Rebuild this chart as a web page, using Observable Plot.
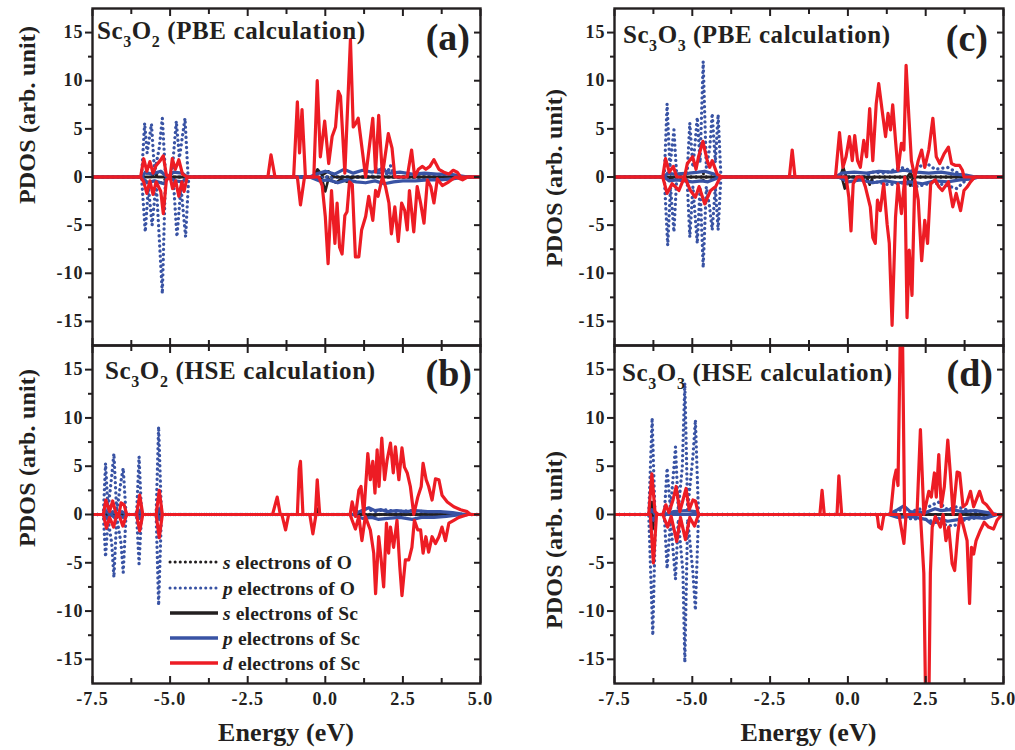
<!DOCTYPE html>
<html><head><meta charset="utf-8">
<script src="https://cdn.jsdelivr.net/npm/d3@7"></script>
<script src="https://cdn.jsdelivr.net/npm/@observablehq/plot@0.6"></script>
<style>
body{margin:0;background:#fff}
#fig{position:relative;width:1015px;height:750px;overflow:hidden;background:#fff}
#fig > svg{position:absolute}
</style></head>
<body><div id="fig"></div>
<script>
// ---------------- axis / tick values ----------------
const xDomain = [-7.5, 5];
const yDomain = [-17.5, 17.5];
const xMajor = [-7.5, -5, -2.5, 0, 2.5, 5];
const xMinor = [-6.25, -3.75, -1.25, 1.25, 3.75];
const yMajor = [-15, -10, -5, 0, 5, 10, 15];
const yMinor = [-12.5, -7.5, -2.5, 2.5, 7.5, 12.5];

// ---------------- panel (a): Sc3O2 PBE ----------------
const aDup = [[-7.5,0],[-5.95,0],[-5.85,1.9],[-5.75,0.6],[-5.65,1.6],[-5.55,0.4],[-5.45,1.2],[-5.32,1.7],[-5.22,2.2],[-5.12,0.2],[-5.0,0],[-4.93,1.9],[-4.83,0.8],[-4.72,1.8],[-4.6,0.3],[-4.45,0],
 [-1.85,0],[-1.75,2.3],[-1.62,0],
 [-1.02,0],[-0.9,7.8],[-0.83,2.5],[-0.75,7.0],[-0.64,0],[-0.37,0],[-0.26,10.0],[-0.16,2.1],[-0.02,5.8],[0.11,1.4],[0.22,4.2],[0.33,5.2],[0.42,8.9],[0.49,8.4],[0.63,0.4],[0.81,14.3],[0.9,5.2],[0.97,5.5],[1.06,6.1],[1.3,0],[1.53,6.1],[1.62,0.5],[1.72,6.4],[1.84,0.2],[2.03,4.5],[2.15,3.0],[2.24,0],[2.64,0],[2.78,2.8],[2.88,0],[3.0,0.8],[3.13,1.1],[3.24,0.8],[3.37,1.1],[3.5,1.8],[3.66,0.8],[3.82,0.5],[3.98,0.3],[4.12,0.7],[4.25,0.5],[4.36,0],[5,0]];
const aDdn = [[-7.5,0],[-5.95,0],[-5.85,-0.5],[-5.75,-1.7],[-5.65,-0.4],[-5.55,-1.8],[-5.45,-0.5],[-5.3,-1.5],[-5.22,-3.8],[-5.12,-0.3],[-5.0,0],[-4.92,-1.2],[-4.82,-0.4],[-4.72,-2.0],[-4.62,-0.5],[-4.55,-1.5],[-4.45,0],
 [-0.9,0],[-0.8,-2.9],[-0.67,0],
 [-0.21,0],[-0.1,-0.9],[0.0,-4.1],[0.09,-9.0],[0.2,-1.4],[0.31,-6.9],[0.38,-2.7],[0.46,-7.3],[0.54,-8.0],[0.63,-4.0],[0.7,-3.6],[0.78,-0.5],[0.87,-0.8],[0.97,-8.3],[1.08,-8.3],[1.17,-5.5],[1.3,-4.1],[1.4,-2.0],[1.53,-4.5],[1.62,-1.4],[1.7,-2.0],[1.84,0],[1.94,-1.0],[2.05,-2.7],[2.13,-5.9],[2.24,-3.1],[2.35,-6.7],[2.46,-2.7],[2.56,-3.5],[2.64,-5.5],[2.71,-1.4],[2.78,-3.5],[2.85,-5.7],[2.96,-1.0],[3.07,-2.7],[3.18,-4.8],[3.29,-0.3],[3.4,-1.0],[3.5,-2.7],[3.61,-0.2],[3.77,-0.9],[3.98,-0.5],[4.2,0],[4.42,-0.3],[4.58,0],[5,0]];
const aPOup = [[-7.5,0],[-5.92,0],[-5.82,5.6],[-5.74,2.5],[-5.6,5.5],[-5.5,0.5],[-5.35,3.0],[-5.25,6.1],[-5.15,0.3],[-4.95,0],[-4.8,5.8],[-4.7,2.0],[-4.52,6.1],[-4.42,0],[1.5,0],[1.62,1.0],[1.72,0.2],[1.85,1.1],[1.98,0.3],[2.1,1.2],[2.22,0],[5,0]];
const aPOdn = [[-7.5,0],[-5.92,0],[-5.8,-5.7],[-5.7,-1.0],[-5.58,-5.0],[-5.45,-0.5],[-5.25,-12.1],[-5.15,0],[-4.9,0],[-4.78,-6.2],[-4.65,-1.0],[-4.5,-6.2],[-4.4,0],[5,0]];
const aPScUp = [[-7.5,0],[-5.9,0],[-5.8,0.5],[-5.6,0.3],[-5.3,0.6],[-5.1,0],[-4.9,0.5],[-4.6,0.4],[-4.45,0],[-0.5,0],[-0.3,0.3],[0.0,0.6],[0.3,0.3],[0.6,0.8],[0.9,0.4],[1.2,0.7],[1.5,0.5],[1.8,0.8],[2.1,0.4],[2.4,0.5],[2.8,0.3],[3.2,0.4],[3.6,0.3],[4.0,0.3],[4.4,0.1],[4.6,0],[5,0]];
const aPScDn = [[-7.5,0],[-5.9,0],[-5.75,-0.6],[-5.5,-0.4],[-5.2,-0.7],[-5.05,0],[-4.85,-0.4],[-4.6,-0.5],[-4.45,0],[-0.5,0],[-0.2,-0.4],[0.1,-0.3],[0.4,-0.6],[0.7,-0.3],[1.0,-0.5],[1.3,-0.6],[1.6,-0.4],[1.9,-0.7],[2.2,-0.5],[2.5,-0.4],[2.9,-0.4],[3.3,-0.3],[3.7,-0.3],[4.1,-0.2],[4.5,0],[5,0]];
const aSScUp = [[-7.5,0],[-5.6,0],[-5.5,0.4],[-5.4,0],[-0.4,0],[-0.25,0.8],[-0.1,0.2],[0.1,0.6],[0.3,0],[5,0]];
const aSScDn = [[-7.5,0],[-0.2,0],[-0.1,-0.3],[0.0,-1.5],[0.1,-0.2],[0.35,-0.6],[0.5,-0.2],[0.7,-0.5],[0.9,0],[5,0]];
const aSOup = [[-7.5,0],[-5.85,0],[-5.75,0.4],[-5.5,0.3],[-5.25,0.5],[-5.1,0],[5,0]];
const aSOdn = [[-7.5,0],[-5.85,0],[-5.8,-0.4],[-5.25,-0.6],[-5.1,0],[5,0]];

// ---------------- panel (b): Sc3O2 HSE ----------------
const bDup = [[-7.5,0],[-7.15,0],[-7.07,1.5],[-6.95,0.3],[-6.85,1.4],[-6.75,0.2],[-6.65,0],[-6.58,1.2],[-6.48,1.0],[-6.4,0],[-6.08,0],[-5.98,2.0],[-5.88,0],[-5.45,0],[-5.35,2.5],[-5.25,0],
 [-1.7,0],[-1.55,1.8],[-1.45,0],[-0.9,0],[-0.84,4.7],[-0.8,5.5],[-0.72,0],[-0.32,0],[-0.26,3.6],[-0.18,0],
 [0.8,0],[0.865,1.3],[0.97,-0.2],[1.08,2.5],[1.15,2.9],[1.24,0],[1.37,6.3],[1.45,3.6],[1.53,5.5],[1.6,2.2],[1.67,6.7],[1.73,2.9],[1.82,7.9],[1.91,3.6],[1.99,5.6],[2.1,7.4],[2.19,4.3],[2.26,7.0],[2.37,3.6],[2.47,6.9],[2.55,4.9],[2.64,4.3],[2.74,2.9],[2.85,0],[2.98,1.8],[3.09,2.9],[3.15,5.3],[3.25,3.6],[3.33,2.9],[3.44,1.5],[3.55,3.7],[3.66,3.6],[3.76,2.0],[3.93,1.3],[4.14,0.8],[4.36,0.5],[4.57,0.3],[4.68,0],[5,0]];
const bDdn = [[-7.5,0],[-7.15,0],[-7.05,-1.4],[-6.95,-0.3],[-6.82,-1.3],[-6.72,0],[-6.62,-0.3],[-6.52,-1.2],[-6.4,0],[-6.08,0],[-5.98,-1.7],[-5.88,0],[-5.45,0],[-5.35,-2.4],[-5.25,0],
 [-1.4,0],[-1.28,-1.6],[-1.18,0],[-0.5,0],[-0.4,-2.0],[-0.3,0],
 [0.8,0],[0.865,-0.6],[0.97,-1.5],[1.08,-0.2],[1.18,-2.7],[1.29,-0.2],[1.45,-1.6],[1.56,-4.0],[1.62,-8.2],[1.72,-2.3],[1.8,-4.7],[1.88,-7.5],[1.97,-0.9],[2.04,-4.0],[2.1,-1.3],[2.2,-3.4],[2.31,-0.6],[2.4,-5.4],[2.47,-8.4],[2.58,-4.7],[2.69,-4.7],[2.79,-3.4],[2.87,-0.6],[2.98,-1.6],[3.07,-1.6],[3.15,-4.0],[3.24,-2.3],[3.33,-3.9],[3.44,-2.3],[3.55,-3.0],[3.66,-2.3],[3.76,-1.3],[3.87,-2.7],[3.98,-0.9],[4.14,-0.6],[4.3,-0.3],[4.5,-0.1],[4.6,0],[5,0]];
const bPOup = [[-7.5,0],[-7.15,0],[-7.08,5.3],[-7.0,0.5],[-6.88,4.0],[-6.81,6.3],[-6.72,0.3],[-6.58,3.5],[-6.51,4.8],[-6.42,0],[-6.08,0],[-6.0,6.0],[-5.92,0],[-5.45,0],[-5.37,9.1],[-5.28,0],[1.0,0],[1.3,0.6],[1.6,0.3],[1.9,0.5],[2.3,0.3],[2.7,0.4],[3.2,0.3],[3.8,0.2],[4.4,0],[5,0]];
const bPOdn = [[-7.5,0],[-7.15,0],[-7.08,-4.4],[-7.0,-0.5],[-6.88,-3.0],[-6.81,-6.5],[-6.72,-0.3],[-6.58,-3.0],[-6.51,-6.0],[-6.42,0],[-6.08,0],[-6.0,-5.1],[-5.92,0],[-5.45,0],[-5.37,-9.4],[-5.28,0],[5,0]];
const bPScUp = [[-7.5,0],[-7.15,0],[-7.07,0.4],[-6.95,0],[-6.85,0.3],[-6.7,0],[-6.55,0.3],[-6.4,0],[-6.05,0],[-5.98,0.4],[-5.9,0],[-5.42,0],[-5.35,0.6],[-5.27,0],[0.9,0],[1.1,0.3],[1.4,0.7],[1.6,0.4],[1.8,0.5],[2.0,0.3],[2.3,0.4],[2.6,0.3],[2.9,0.4],[3.3,0.3],[3.7,0.3],[4.1,0.2],[4.5,0],[5,0]];
const bPScDn = [[-7.5,0],[-7.15,0],[-7.05,-0.4],[-6.9,0],[-6.8,-0.3],[-6.7,0],[-6.52,-0.3],[-6.4,0],[-6.05,0],[-5.98,-0.4],[-5.9,0],[-5.42,0],[-5.35,-0.5],[-5.27,0],[0.9,0],[1.2,-0.4],[1.5,-0.3],[1.7,-0.5],[2.0,-0.4],[2.4,-0.3],[2.8,-0.5],[3.1,-0.3],[3.5,-0.3],[3.9,-0.2],[4.4,0],[5,0]];
const bSScUp = [[-7.5,0],[-0.3,0],[-0.25,0.6],[-0.2,0],[0.95,0],[1.0,0.4],[1.1,0],[5,0]];
const bSScDn = [[-7.5,0],[1.3,0],[1.45,-0.3],[1.7,0],[5,0]];
const bSOup = [[-7.5,0],[-5.42,0],[-5.35,0.3],[-5.28,0],[5,0]];
const bSOdn = [[-7.5,0],[-5.42,0],[-5.35,-0.3],[-5.28,0],[5,0]];

// ---------------- panel (c): Sc3O3 PBE ----------------
const cDup = [[-7.5,0],[-5.95,0],[-5.86,1.9],[-5.74,0.5],[-5.61,1.1],[-5.5,0],[-5.25,0],[-5.16,1.4],[-4.99,2.1],[-4.88,0.8],[-4.8,2.1],[-4.66,3.7],[-4.52,1.7],[-4.44,1.0],[-4.36,1.7],[-4.2,0.3],[-4.05,0],
 [-1.88,0],[-1.79,2.8],[-1.7,0],
 [-0.4,0],[-0.27,4.6],[-0.16,1.0],[-0.06,2.1],[0.05,4.2],[0.14,1.7],[0.22,4.3],[0.31,1.7],[0.4,1.0],[0.51,3.8],[0.6,2.1],[0.7,7.1],[0.8,1.7],[0.91,7.6],[0.99,9.7],[1.1,6.9],[1.21,4.2],[1.29,6.6],[1.37,4.9],[1.44,7.5],[1.53,3.8],[1.61,0.7],[1.72,3.5],[1.8,2.8],[1.87,11.6],[1.96,6.2],[2.04,1.7],[2.15,0],[2.26,1.7],[2.37,2.8],[2.47,1.0],[2.6,2.8],[2.73,6.1],[2.84,2.1],[2.95,1.4],[3.09,2.4],[3.23,3.1],[3.33,1.4],[3.46,1.2],[3.59,1.2],[3.68,0.7],[3.73,0],[5,0]];
const cDdn = [[-7.5,0],[-5.95,0],[-5.81,-1.7],[-5.65,-0.7],[-5.55,-1.0],[-5.43,-1.4],[-5.25,0],[-5.06,-1.4],[-4.9,-2.1],[-4.78,-1.0],[-4.6,-2.8],[-4.41,-1.4],[-4.25,-1.0],[-4.1,0],
 [-0.06,0],[0.03,-2.1],[0.1,-5.6],[0.17,-0.7],[0.29,0],[0.45,0],[0.56,-1.0],[0.72,-3.1],[0.8,-6.3],[0.88,-6.9],[0.95,-2.4],[1.04,-3.5],[1.15,-0.7],[1.26,-4.9],[1.33,-6.9],[1.42,-15.4],[1.53,-4.2],[1.61,-0.7],[1.72,-3.8],[1.83,0],[1.9,-14.6],[1.97,-7.6],[2.06,-12.3],[2.15,-0.3],[2.26,-2.4],[2.37,-8.7],[2.47,-4.5],[2.56,-6.9],[2.66,-0.7],[2.8,-0.3],[2.92,-1.0],[3.03,-1.4],[3.23,-0.5],[3.37,-3.1],[3.48,-1.7],[3.62,-3.5],[3.73,-1.4],[3.84,-1.0],[3.94,-0.5],[4.08,0],[5,0]];
const cPOup = [[-7.5,0],[-5.9,0],[-5.81,7.6],[-5.72,1.0],[-5.59,4.9],[-5.5,0],[-5.17,0],[-5.08,5.6],[-4.98,1.0],[-4.84,6.2],[-4.75,1.5],[-4.65,12.0],[-4.55,1.0],[-4.44,3.0],[-4.36,6.6],[-4.26,1.5],[-4.17,6.5],[-4.08,0],[0.5,0],[0.8,0.5],[1.2,0.4],[1.7,1.0],[2.1,0.6],[2.5,1.5],[2.8,0.8],[3.2,1.0],[3.6,0.3],[3.9,0],[5,0]];
const cPOdn = [[-7.5,0],[-5.9,0],[-5.79,-7.1],[-5.7,-1.0],[-5.59,-5.7],[-5.5,0],[-5.17,0],[-5.08,-6.25],[-4.98,-1.0],[-4.84,-6.9],[-4.75,-1.0],[-4.65,-9.4],[-4.55,-1.0],[-4.45,-3.0],[-4.36,-5.5],[-4.26,-1.0],[-4.17,-5.5],[-4.08,0],[0.5,0],[0.9,-0.5],[1.3,-0.8],[1.8,-0.6],[2.2,-1.0],[2.7,-0.6],[3.1,-0.8],[3.5,-1.2],[3.9,0],[5,0]];
const cPScUp = [[-7.5,0],[-5.9,0],[-5.8,0.4],[-5.6,0.3],[-5.1,0.4],[-4.8,0.5],[-4.6,0.6],[-4.3,0.3],[-4.1,0],[-0.4,0],[-0.2,0.4],[0.2,0.5],[0.6,0.4],[1.0,0.6],[1.4,0.5],[1.8,0.7],[2.2,0.5],[2.6,0.4],[3.0,0.5],[3.4,0.3],[3.8,0.2],[4.1,0],[5,0]];
const cPScDn = [[-7.5,0],[-5.9,0],[-5.75,-0.4],[-5.5,-0.3],[-5.0,-0.5],[-4.7,-0.4],[-4.5,-0.5],[-4.1,0],[-0.3,0],[0.0,-0.5],[0.4,-0.3],[0.8,-0.6],[1.2,-0.4],[1.6,-0.6],[2.0,-0.5],[2.4,-0.7],[2.8,-0.4],[3.2,-0.5],[3.6,-0.3],[4.0,-0.2],[4.2,0],[5,0]];
const cSScUp = [[-7.5,0],[-0.25,0],[-0.15,1.0],[-0.05,0],[1.9,0],[2.0,0.4],[2.1,0],[5,0]];
const cSScDn = [[-7.5,0],[-5.75,0],[-5.7,-0.3],[-5.6,0],[-0.2,0],[-0.1,-1.2],[0.0,0],[0.6,0],[0.7,-0.8],[0.8,0],[1.9,0],[2.0,-0.9],[2.1,0],[5,0]];
const cSOup = [[-7.5,0],[-4.7,0],[-4.65,0.4],[-4.6,0],[5,0]];
const cSOdn = [[-7.5,0],[-4.7,0],[-4.65,-0.4],[-4.6,0],[5,0]];

// ---------------- panel (d): Sc3O3 HSE ----------------
const dDup = [[-7.5,0],[-6.4,0],[-6.3,4.2],[-6.2,0.3],[-6.1,0],[-5.95,0],[-5.85,1.0],[-5.75,0.2],[-5.62,1.5],[-5.52,2.9],[-5.4,0.3],[-5.3,1.5],[-5.2,2.7],[-5.1,0.5],[-4.98,1.5],[-4.9,1.4],[-4.8,0],
 [-0.9,0],[-0.83,2.5],[-0.76,0],[-0.35,0],[-0.29,4.0],[-0.2,0],
 [1.37,0],[1.48,3.6],[1.55,4.6],[1.61,3.0],[1.69,20],[1.75,20],[1.82,0],[2.22,0],[2.33,8.8],[2.44,0],[2.6,2.4],[2.68,1.8],[2.78,4.3],[2.84,1.8],[2.92,6.2],[3.0,0.8],[3.1,2.9],[3.21,7.7],[3.29,4.3],[3.38,0],[3.51,4.4],[3.59,4.3],[3.7,0.8],[3.81,1.1],[3.94,2.4],[4.04,0.8],[4.23,2.4],[4.34,1.3],[4.45,1.0],[4.57,0.5],[4.68,0],[5,0]];
const dDdn = [[-7.5,0],[-6.35,0],[-6.25,-5.0],[-6.15,0],[-5.95,0],[-5.79,-1.3],[-5.68,-0.2],[-5.5,-2.8],[-5.38,-0.3],[-5.22,-2.6],[-5.08,-0.3],[-4.93,-1.2],[-4.8,0],
 [0.94,0],[0.99,-1.3],[1.08,-1.5],[1.16,0],[1.64,0],[1.71,-1.3],[1.8,-3.0],[1.87,0],[2.33,0],[2.44,-6.1],[2.5,-20],[2.6,-20],[2.65,-6.1],[2.71,-1.3],[2.81,-0.2],[2.97,-1.3],[3.06,0],[3.15,-2.7],[3.24,-1.3],[3.35,-5.1],[3.43,-5.8],[3.53,-2.0],[3.61,0],[3.72,-1.3],[3.83,-2.7],[3.91,-9.2],[3.97,-3.4],[4.04,-4.1],[4.12,-2.7],[4.26,-1.6],[4.38,-0.8],[4.52,-1.3],[4.68,-1.5],[4.79,-0.6],[4.95,0],[5,0]];
const dPOup = [[-7.5,0],[-6.4,0],[-6.29,10.0],[-6.2,0],[-5.9,0],[-5.81,4.8],[-5.7,0.5],[-5.54,7.0],[-5.45,0.5],[-5.32,5.0],[-5.24,13.6],[-5.15,0.5],[-4.98,6.0],[-4.9,9.8],[-4.8,0],[1.4,0],[1.7,0.5],[2.0,0.3],[2.6,0.8],[2.9,1.3],[3.2,0.5],[3.5,0.8],[4.0,0.3],[4.4,0],[5,0]];
const dPOdn = [[-7.5,0],[-6.4,0],[-6.27,-12.5],[-6.18,0],[-5.9,0],[-5.81,-5.6],[-5.7,-0.5],[-5.54,-6.7],[-5.45,-0.5],[-5.3,-6.0],[-5.24,-15.3],[-5.15,-0.5],[-4.98,-6.0],[-4.9,-9.9],[-4.8,0],[1.4,0],[1.8,-0.4],[2.5,-0.5],[3.0,-1.0],[3.4,-1.2],[3.7,-0.6],[4.2,-0.3],[4.5,0],[5,0]];
const dPScUp = [[-7.5,0],[-6.4,0],[-6.3,0.5],[-6.2,0],[-5.9,0],[-5.6,0.3],[-5.2,0.4],[-4.9,0.3],[-4.8,0],[1.3,0],[1.6,0.5],[1.8,0.9],[2.0,0.3],[2.5,0.2],[2.8,0.6],[3.0,0.4],[3.3,0.5],[3.7,0.3],[4.1,0.4],[4.5,0.2],[4.8,0],[5,0]];
const dPScDn = [[-7.5,0],[-6.4,0],[-6.25,-0.6],[-6.15,0],[1.3,0],[1.6,-0.3],[2.0,-0.2],[2.5,-0.5],[2.7,-1.0],[2.9,-0.4],[3.2,-0.7],[3.6,-0.5],[4.0,-0.3],[4.4,-0.4],[4.8,0],[5,0]];
const dSScUp = [[-7.5,0],[-6.35,0],[-6.3,1.3],[-6.25,0],[5,0]];
const dSScDn = [[-7.5,0],[-6.3,0],[-6.27,-1.5],[-6.22,0],[5,0]];
const dSOup = [[-7.5,0],[-6.35,0],[-6.3,0.4],[-6.25,0],[5,0]];
const dSOdn = [[-7.5,0],[-6.35,0],[-6.3,-0.4],[-6.25,0],[5,0]];

// ---------------- series / legend ----------------
const seriesKeys = ["sO", "pO", "sSc", "pSc", "dSc"];
const seriesOrbital = ["s", "p", "s", "p", "d"];
const seriesAtom = ["O", "O", "Sc", "Sc", "Sc"];
const seriesColor = ["#231f20", "#3953a4", "#231f20", "#3953a4", "#ed1c24"];
const seriesDotted = [true, true, false, false, false];
const seriesWidth = [3, 3.3, 2.6, 3.2, 3.2];

const panelData = {
  a: {sO:[aSOup,aSOdn], pO:[aPOup,aPOdn], sSc:[aSScUp,aSScDn], pSc:[aPScUp,aPScDn], dSc:[aDup,aDdn]},
  b: {sO:[bSOup,bSOdn], pO:[bPOup,bPOdn], sSc:[bSScUp,bSScDn], pSc:[bPScUp,bPScDn], dSc:[bDup,bDdn]},
  c: {sO:[cSOup,cSOdn], pO:[cPOup,cPOdn], sSc:[cSScUp,cSScDn], pSc:[cPScUp,cPScDn], dSc:[cDup,cDdn]},
  d: {sO:[dSOup,dSOdn], pO:[dPOup,dPOdn], sSc:[dSScUp,dSScDn], pSc:[dPScUp,dPScDn], dSc:[dDup,dDdn]}
};
const panelCompound = {a:["3","2"], b:["3","2"], c:["3","3"], d:["3","3"]};
const panelMethod = {a:"PBE", b:"HSE", c:"PBE", d:"HSE"};

const FONT = "'Liberation Serif', 'Times New Roman', serif";
const INK = "#231f20";

const layout = {
  a: {left:0,   top:0,   w:510, h:350, ml:92, mr:30, mt:8, mb:5,  bottom:false},
  b: {left:0,   top:340, w:510, h:410, ml:92, mr:30, mt:5, mb:67, bottom:true},
  c: {left:520, top:0,   w:495, h:350, ml:94, mr:12, mt:8, mb:5,  bottom:false},
  d: {left:520, top:340, w:495, h:410, ml:94, mr:12, mt:5, mb:67, bottom:true}
};
// text placement (svg-local px) and rendered lengths
const titlePos = {a:[97,39,268], b:[105,39,270], c:[103,43,267], d:[102,41,270]};
const tagPos = {a:[470,50], b:[472,46], c:[468,51], d:[473,46]};
const ylabPos = {a:[35,115], b:[35,118], c:[42,178], d:[42,200]};
const legendRows = [222, 248, 273, 298, 323];
const legendLen = [129, 132, 135, 137, 137];

const fig = document.getElementById("fig");

function richText(g, x, y, size, parts, anchor, len) {
  const t = g.append("text").attr("x", x).attr("y", y)
    .attr("font-family", FONT).attr("font-weight", "bold").attr("font-size", size)
    .attr("fill", INK).attr("text-anchor", anchor || "start")
    .style("white-space", "pre").style("letter-spacing", "0px");
  if (len) t.attr("textLength", len).attr("lengthAdjust", "spacing");
  let shift = 0;
  for (const p of parts) {
    const ts = t.append("tspan").text(p.t);
    if (p.italic) ts.attr("font-style", "italic");
    if (p.sub) { ts.attr("font-size", size * 0.64).attr("dy", 8 - shift); shift = 8; }
    else if (shift) { ts.attr("dy", -shift); shift = 0; }
  }
  return t;
}

for (const id of ["a", "b", "c", "d"]) {
  const L = layout[id];
  const marks = [];
  seriesKeys.forEach((k, i) => {
    for (const arr of panelData[id][k]) {
      marks.push(Plot.line(arr, {
        x: d => d[0], y: d => d[1],
        stroke: seriesColor[i], strokeWidth: seriesWidth[i],
        strokeDasharray: seriesDotted[i] ? "0.1,5" : null,
        strokeLinecap: seriesDotted[i] ? "round" : "butt",
        strokeLinejoin: "round", clip: true
      }));
    }
  });
  const axStyle = {stroke: INK, strokeWidth: 2, label: null};
  marks.push(
    Plot.frame({stroke: INK, strokeWidth: 2.4}),
    Plot.axisY(yMajor, {...axStyle, anchor: "left", tickSize: 7, tickPadding: 2, tickFormat: d => String(d), fontSize: 18, fontWeight: "bold", fill: INK}),
    Plot.axisY(yMinor, {...axStyle, anchor: "left", tickSize: 4, fill: "none"}),
    Plot.axisY(yMajor, {...axStyle, anchor: "right", tickSize: 7, dx: -7, fill: "none"}),
    Plot.axisY(yMinor, {...axStyle, anchor: "right", tickSize: 4, dx: -4, fill: "none"}),
    Plot.axisX(xMajor, {...axStyle, anchor: "top", tickSize: 7, dy: 7, fill: "none"}),
    Plot.axisX(xMinor, {...axStyle, anchor: "top", tickSize: 5, dy: 5, fill: "none"}),
    Plot.axisX(xMajor, {...axStyle, anchor: "bottom", tickSize: 7, dy: -7, fill: "none"}),
    Plot.axisX(xMinor, {...axStyle, anchor: "bottom", tickSize: 5, dy: -5, fill: "none"})
  );
  if (L.bottom) {
    marks.push(Plot.axisX(xMajor, {anchor: "bottom", tickSize: 0, tickPadding: 9, label: null, tickFormat: d => d.toFixed(1), fontSize: 18, fontWeight: "bold", fill: INK}));
  }
  const plot = Plot.plot({
    width: L.w, height: L.h,
    marginLeft: L.ml, marginRight: L.mr, marginTop: L.mt, marginBottom: L.mb,
    x: {domain: xDomain}, y: {domain: yDomain},
    style: {background: "transparent", overflow: "visible", fontFamily: FONT, fontWeight: "bold", color: INK, letterSpacing: "1px"},
    marks
  });
  plot.style.left = L.left + "px";
  plot.style.top = L.top + "px";
  fig.appendChild(plot);

  const svg = d3.select(plot);
  const g = svg.append("g");
  const [tx, ty, tl] = titlePos[id];
  richText(g, tx, ty, 25, [
    {t: "Sc"}, {t: panelCompound[id][0], sub: true}, {t: "O"}, {t: panelCompound[id][1], sub: true},
    {t: " (" + panelMethod[id] + " calculation)"}
  ], "start", tl);
  const [gx, gy] = tagPos[id];
  richText(g, gx, gy, 38, [{t: "(" + id + ")"}], "end");
  const [lx, ly] = ylabPos[id];
  g.append("text").attr("transform", `translate(${lx},${ly}) rotate(-90)`)
    .attr("text-anchor", "middle").attr("font-family", FONT).attr("font-weight", "bold")
    .attr("font-size", 24).attr("fill", INK).style("white-space", "pre").style("letter-spacing", "0px")
    .attr("textLength", 178).attr("lengthAdjust", "spacing")
    .text("PDOS (arb. unit)");
  if (L.bottom) {
    const cx = L.ml + (L.w - L.ml - L.mr) / 2;
    g.append("text").attr("x", cx).attr("y", 401).attr("text-anchor", "middle")
      .attr("font-family", FONT).attr("font-weight", "bold").attr("font-size", 26)
      .attr("fill", INK).style("letter-spacing", "0px")
      .attr("textLength", 136).attr("lengthAdjust", "spacing").text("Energy (eV)");
  }
  if (id === "b") {
    seriesKeys.forEach((k, i) => {
      g.append("line").attr("x1", 170).attr("x2", 218).attr("y1", legendRows[i]).attr("y2", legendRows[i])
        .attr("stroke", seriesColor[i]).attr("stroke-width", seriesDotted[i] ? 3 : 3.4)
        .attr("stroke-dasharray", seriesDotted[i] ? "0.1,5" : null)
        .attr("stroke-linecap", seriesDotted[i] ? "round" : "butt");
      richText(g, 223, legendRows[i] + 7, 19.5, [{t: seriesOrbital[i], italic: true}, {t: " electrons of " + seriesAtom[i]}], "start", legendLen[i]);
    });
  }
}
</script>
</body></html>
